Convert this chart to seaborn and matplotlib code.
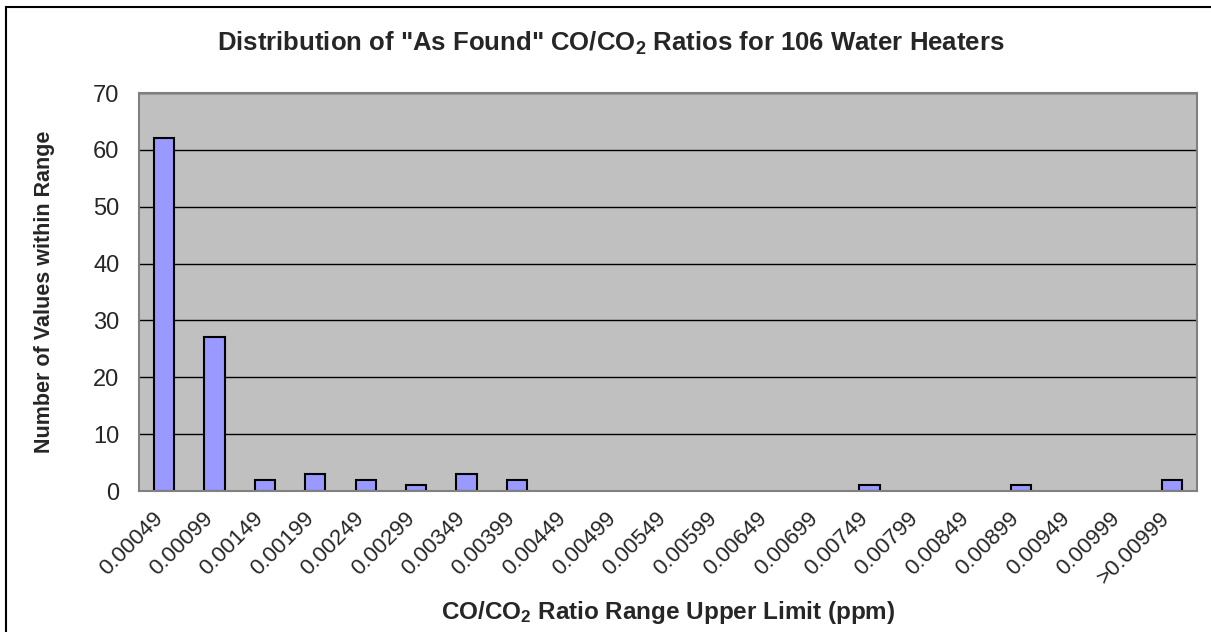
import matplotlib
matplotlib.use("Agg")
import matplotlib.pyplot as plt
import matplotlib.transforms as mtransforms
from matplotlib.patches import Rectangle
import pandas as pd
import seaborn as sns

# Category upper limits and counts
ranges = ["0.00049", "0.00099", "0.00149", "0.00199", "0.00249", "0.00299",
          "0.00349", "0.00399", "0.00449", "0.00499", "0.00549", "0.00599",
          "0.00649", "0.00699", "0.00749", "0.00799", "0.00849", "0.00899",
          "0.00949", "0.00999", ">0.00999"]
counts = [62, 27, 2, 3, 2, 1, 3, 2, 0, 0, 0, 0, 0, 0, 1, 0, 0, 1, 0, 0, 2]
yticks = [0, 10, 20, 30, 40, 50, 60, 70]

df = pd.DataFrame({"range": ranges, "count": counts})

sns.set_style("white")
plt.rcParams["font.family"] = ["Liberation Sans", "DejaVu Sans"]
plt.rcParams["mathtext.fontset"] = "custom"
plt.rcParams["mathtext.rm"] = "Liberation Sans:bold"
plt.rcParams["mathtext.bf"] = "Liberation Sans:bold"
plt.rcParams["mathtext.it"] = "Liberation Sans:bold"

fig = plt.figure(figsize=(12.11, 6.32), dpi=100)
ax = fig.add_axes([139 / 1211, 1 - 491 / 632, 1058 / 1211, 398 / 632])
ax.set_facecolor("#C0C0C0")

sns.barplot(data=df, x="range", y="count", order=ranges, color="#9999FF",
            edgecolor="black", linewidth=1.5, width=0.4, saturation=1, ax=ax)

# empty bins show nothing
for bar in ax.patches:
    if bar.get_height() == 0:
        bar.set_linewidth(0)

ax.set_xlim(-0.5, len(ranges) - 0.5)
ax.set_ylim(0, 70)
ax.set_yticks(yticks)
ax.yaxis.grid(True, color="black", linewidth=1)
ax.set_axisbelow(True)
ax.tick_params(axis="y", length=6, width=1, color="#444444", labelsize=17, pad=8)

# labels at category centres, tick marks at category boundaries
ax.set_xticks(range(len(ranges)))
ax.set_xticklabels(ranges, rotation=45, ha="right", va="top",
                   rotation_mode="anchor", fontsize=16)
ax.tick_params(axis="x", which="major", length=0, pad=10)
ax.set_xticks([i - 0.5 for i in range(len(ranges) + 1)], minor=True)
ax.tick_params(axis="x", which="minor", length=6, width=1, color="#444444")
offset = mtransforms.ScaledTranslation(-12 / 100, -3 / 100, fig.dpi_scale_trans)
for lbl in ax.get_xticklabels():
    lbl.set_transform(lbl.get_transform() + offset)

for side, sp in ax.spines.items():
    sp.set_visible(True)
    sp.set_color("#808080")
    sp.set_linewidth(1.5)

ax.set_xlabel("")
ax.set_ylabel("")
fig.text(668 / 1211, 1 - 613 / 632, "CO/CO$_2$ Ratio Range Upper Limit (ppm)",
         ha="center", va="center", fontsize=17.5, fontweight="bold")
fig.text(45 / 1211, 1 - 292 / 632, "Number of Values within Range",
         ha="center", va="center", rotation=90, fontsize=15.5, fontweight="bold")
fig.text(611 / 1211, 1 - 43 / 632,
         'Distribution of "As Found" CO/CO$_2$ Ratios for 106 Water Heaters',
         ha="center", va="center", fontsize=18.5, fontweight="bold")

fig.patches.append(Rectangle((6 / 1211, -0.05), 1.1, 1 - 7 / 632 + 0.05,
                             transform=fig.transFigure, fill=False,
                             edgecolor="black", linewidth=1.5))

fig.savefig("out.png", dpi=100)
